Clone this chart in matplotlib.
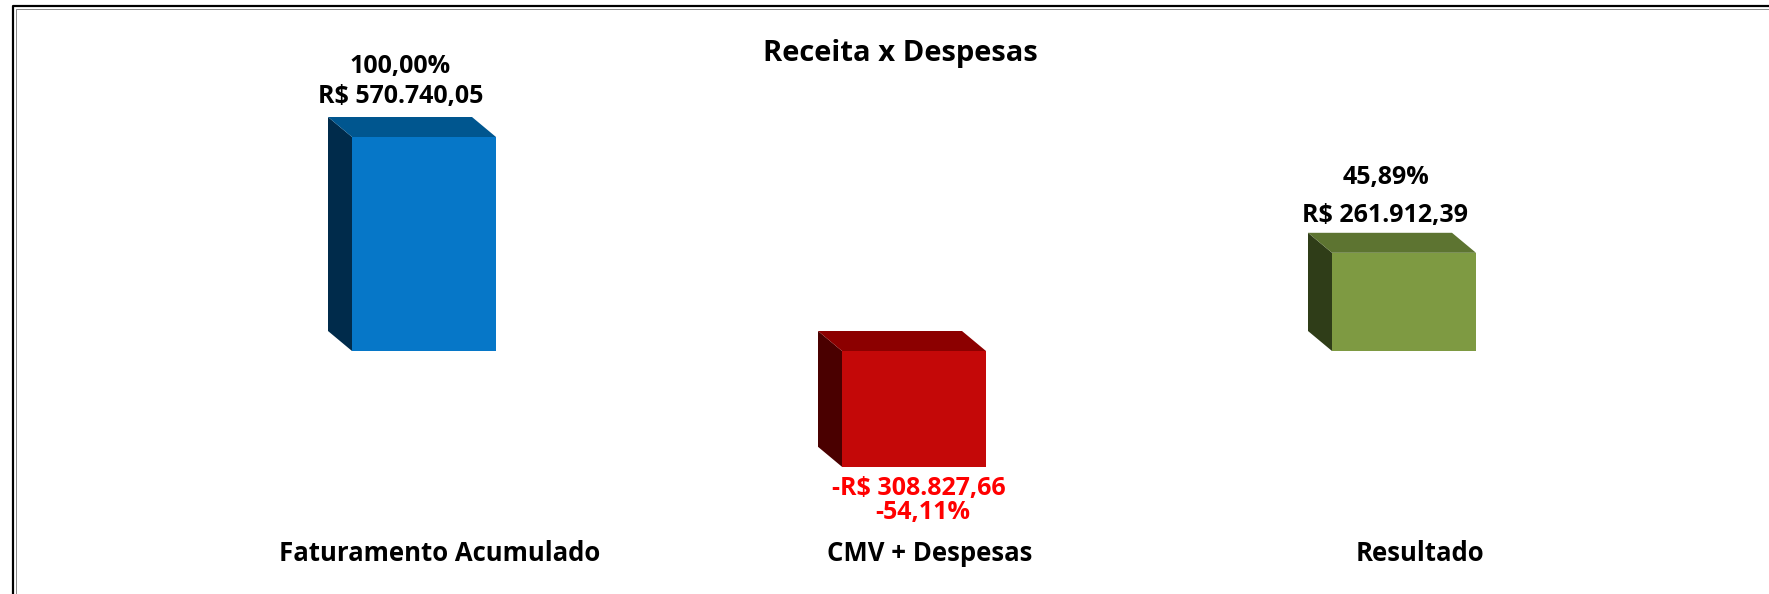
import matplotlib.pyplot as plt
from matplotlib.patches import Polygon, Rectangle
from matplotlib.lines import Line2D

categories = ["Faturamento Acumulado", "CMV + Despesas", "Resultado"]
values = [570740.05, -308827.66, 261912.39]
percents = ["100,00%", "-54,11%", "45,89%"]
value_labels = ["R$ 570.740,05", "-R$ 308.827,66", "R$ 261.912,39"]

front_colors = ["#0677c8", "#c40808", "#7e9a42"]
top_colors = ["#00568f", "#8c0000", "#5d7431"]
side_colors = ["#002b4b", "#4a0000", "#2f3d18"]

W, H = 1769, 594
fig = plt.figure(figsize=(W / 100, H / 100), dpi=100)
ax = fig.add_axes([0, 0, 1, 1])
ax.axis("off")

# pixel layout: 490 px between categories, zero line at 351 px from the top
px_per_cat = 490
x0_px = 424
zero_px = 351
px_per_val = 214 / values[0]
ax.set_xlim(-x0_px / px_per_cat, (W - x0_px) / px_per_cat)
ax.set_ylim(-(H - zero_px) / px_per_val, zero_px / px_per_val)

bar_w = 144 / px_per_cat
dx = 24 / px_per_cat
dy = 20 / px_per_val

for i, v in enumerate(values):
    left, right = i - bar_w / 2, i + bar_w / 2
    top = max(v, 0)
    # left side face
    ax.add_patch(Polygon([(left, 0), (left, v), (left - dx, v + dy), (left - dx, dy)],
                         closed=True, facecolor=side_colors[i], edgecolor="none"))
    # top face
    ax.add_patch(Polygon([(left, top), (right, top), (right - dx, top + dy), (left - dx, top + dy)],
                         closed=True, facecolor=top_colors[i], edgecolor="none"))
    # front face
    ax.add_patch(Rectangle((left, min(v, 0)), bar_w, abs(v),
                           facecolor=front_colors[i], edgecolor="none"))

font = "Open Sans"
lbl = dict(ha="center", va="baseline", fontsize=18, fontweight="bold",
           family=font, textcoords="offset pixels")

# labels above positive bars
ax.annotate(percents[0], (0, values[0]), xytext=(-24, 64), color="black", **lbl)
ax.annotate(value_labels[0], (0, values[0]), xytext=(-23, 34), color="black", **lbl)
ax.annotate(percents[2], (2, values[2]), xytext=(-18, 69), color="black", **lbl)
ax.annotate(value_labels[2], (2, values[2]), xytext=(-19, 31), color="black", **lbl)
# labels below the negative bar
ax.annotate(value_labels[1], (1, values[1]), xytext=(5, -28), color="#ff0000", **lbl)
ax.annotate(percents[1], (1, values[1]), xytext=(9, -52), color="#ff0000", **lbl)

# category names
for i, name in enumerate(categories):
    ax.text(i + 16 / px_per_cat, -(561 - zero_px) / px_per_val, name, ha="center", va="baseline",
            fontsize=18.5, fontweight="bold", family=font)

fig.text(900 / W, 1 - 61 / H, "Receita x Despesas", ha="center", va="baseline",
         fontsize=21, fontweight="bold", family=font)

# double frame round the chart area
for (xs, ys, c, lw) in [
    ([12.5 / W, 12.5 / W, 1.0], [0.0, 1 - 6 / H, 1 - 6 / H], "black", 2.2),
    ([15.5 / W, 15.5 / W, 1.0], [0.0, 1 - 9 / H, 1 - 9 / H], "#8c8c8c", 1.0),
]:
    fig.add_artist(Line2D(xs, ys, color=c, linewidth=lw * 0.72))

fig.savefig("out.png", dpi=100)
